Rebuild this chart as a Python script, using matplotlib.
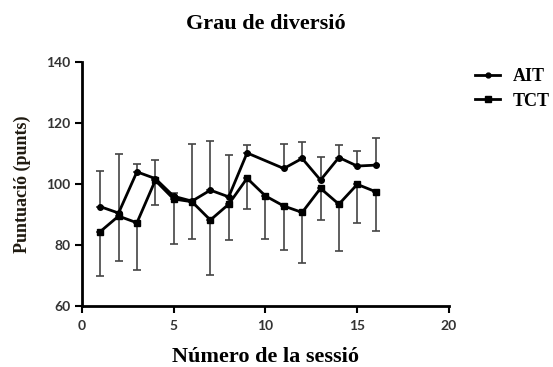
import numpy as np
import matplotlib
matplotlib.use("Agg")
import matplotlib.pyplot as plt
from matplotlib.lines import Line2D

# sessions and scores (mean and SD) per group
ait_session = [1, 2, 3, 4, 5, 6, 7, 8, 9, 11, 12, 13, 14, 15, 16]
ait_mean = [92.6, 90.5, 104.0, 101.8, 96.0, 94.4, 98.0, 95.8, 110.2,
            105.1, 108.4, 101.3, 108.7, 105.9, 106.2]
ait_sd = [11.8, 19.3, 2.6, 6.1, 1.0, 18.7, 16.1, 13.7, 2.6,
          8.0, 5.3, 7.7, 4.0, 5.0, 9.0]

tct_session = list(range(1, 17))
tct_mean = [84.4, 89.5, 87.3, 101.2, 95.1, 94.2, 88.2, 93.4, 101.9,
            96.1, 92.8, 90.7, 98.6, 93.4, 99.9, 97.5]
tct_sd = [14.4, 14.7, 15.5, 8.1, 14.6, 12.3, 18.0, 11.8, 10.1,
          14.2, 14.4, 16.7, 10.4, 15.4, 12.8, 12.8]

serif = "Liberation Serif"
tick_font = {"family": "Lato", "weight": "bold", "size": 10, "color": "#333333"}

fig = plt.figure(figsize=(5.53, 3.67), dpi=100)
ax = fig.add_axes([0.148, 0.166, 0.664, 0.665])

# AIT: bars above the mean only
ax.errorbar(ait_session, ait_mean,
            yerr=[np.zeros(len(ait_sd)), ait_sd],
            color="black", lw=2, marker="o", ms=4,
            ecolor="#444444", elinewidth=1.2, capsize=3, capthick=1.2,
            zorder=3)
# TCT: bars below the mean only
ax.errorbar(tct_session, tct_mean,
            yerr=[tct_sd, np.zeros(len(tct_sd))],
            color="black", lw=2, marker="s", ms=5,
            ecolor="#444444", elinewidth=1.2, capsize=3, capthick=1.2,
            zorder=3)

ax.set_xlim(0, 20)
ax.set_ylim(60, 140)
ax.set_xticks([0, 5, 10, 15, 20])
ax.set_yticks([60, 80, 100, 120, 140])
for lbl in ax.get_xticklabels() + ax.get_yticklabels():
    lbl.set(**tick_font)

for side in ("top", "right"):
    ax.spines[side].set_visible(False)
for side in ("left", "bottom"):
    ax.spines[side].set_linewidth(2)
ax.tick_params(direction="out", length=5, width=1.5, pad=3)
ax.tick_params(axis="x", pad=5)

ax.set_title("Grau de diversió", family=serif, weight="bold", size=16, pad=24)
ax.set_xlabel("Número de la sessió", family=serif, weight="bold", size=16, labelpad=11)
ax.set_ylabel("Puntuació (punts)", family=serif, weight="bold", size=13,
              color="#1f1a10", labelpad=11)

handles = [
    Line2D([], [], color="black", lw=2, marker="o", ms=3.5),
    Line2D([], [], color="black", lw=2, marker="s", ms=4),
]
ax.legend(handles, ["AIT", "TCT"], loc="upper left", bbox_to_anchor=(1.071, 0.974),
          frameon=False, prop={"family": serif, "weight": "bold", "size": 13},
          borderpad=0, borderaxespad=0,
          handlelength=1.4, handletextpad=0.7, labelspacing=0.4)

fig.savefig("out.png", dpi=100)
